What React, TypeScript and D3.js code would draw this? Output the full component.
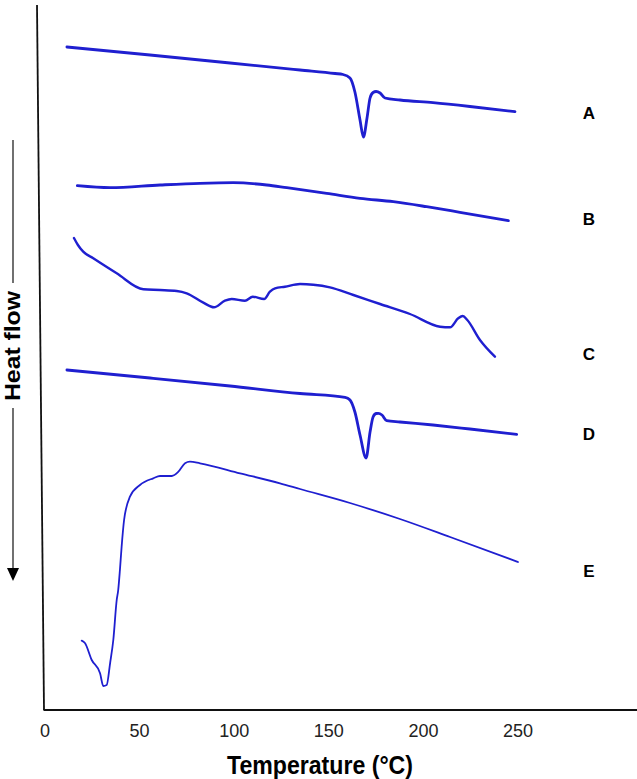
import React from "react";
import * as d3 from "d3";

const W = 637;
const H = 779;

// Temperature (°C) / heat flow (a.u.)
const tempA = [11.6, 55.5, 97.8, 134.8, 153.3, 157.5, 161.2, 163.8, 166.5, 168.3, 170.2, 171.8, 173.4, 175.0, 177.1, 179.7, 187.6, 205.1, 224.6, 248.4];
const flowA = [66.3, 65.5, 64.7, 64.0, 63.65, 63.55, 63.2, 61.8, 59.0, 57.3, 59.2, 61.2, 61.75, 61.85, 61.7, 61.2, 61.0, 60.73, 60.35, 59.83];

const tempB = [17.1, 34.4, 60.8, 81.9, 99.5, 117.2, 127.8, 148.9, 166.5, 184.1, 201.7, 219.3, 244.9];
const flowB = [52.43, 52.23, 52.5, 52.67, 52.73, 52.5, 52.23, 51.67, 51.17, 50.83, 50.33, 49.77, 48.93];

const tempC = [15.3, 17.4, 20.2, 25.5, 37.9, 52.0, 60.8, 69.6, 74.9, 83.7, 89.3, 95.1, 98.7, 105.7, 109.8, 115.8, 118.9, 121.6, 126.8, 134.8, 141.8, 150.6, 163.0, 177.1, 192.9, 208.8, 214.1, 218.4, 220.8, 223.2, 229.9, 237.8];
const flowC = [47.2, 46.5, 45.83, 45.17, 43.67, 42.07, 42.0, 41.9, 41.67, 40.73, 40.27, 40.93, 41.1, 40.93, 41.33, 41.1, 41.83, 42.17, 42.33, 42.6, 42.53, 42.27, 41.5, 40.6, 39.6, 38.33, 38.27, 39.17, 39.4, 39.0, 37.0, 35.33];

const tempD = [11.6, 55.5, 97.8, 134.8, 158.6, 161.2, 163.8, 166.5, 169.7, 171.8, 173.4, 175.0, 176.2, 178.1, 180.6, 187.6, 205.1, 224.6, 249.3];
const flowD = [34.0, 33.2, 32.4, 31.65, 31.27, 31.0, 29.8, 27.5, 25.2, 27.8, 29.3, 29.65, 29.67, 29.5, 28.93, 28.8, 28.5, 28.1, 27.57];

const tempE = [19.4, 21.1, 24.7, 29.1, 30.8, 32.6, 34.4, 36.1, 37.9, 38.7, 39.6, 40.5, 41.8, 44.9, 50.2, 57.2, 60.8, 67.0, 70.5, 74.0, 76.6, 81.9, 103.1, 124.2, 134.8, 161.2, 187.6, 214.1, 250.0];
const flowE = [6.93, 6.7, 5.0, 3.67, 2.4, 2.5, 4.67, 7.0, 11.0, 12.0, 14.0, 16.33, 19.0, 21.33, 22.5, 23.17, 23.4, 23.4, 23.83, 24.67, 24.83, 24.67, 23.67, 22.67, 22.1, 20.7, 19.1, 17.3, 14.8];

const seriesLabels = ["A", "B", "C", "D", "E"];
const labelFlow = [59.7, 49.1, 35.6, 27.6, 13.9];
const xTicks = [0, 50, 100, 150, 200, 250];

const xTitle = "Temperature (°C)";
const yTitle = "Heat flow";

const BLUE = "#1f1fd0";

export default function App() {
  const x = d3.scaleLinear().domain([0, 250]).range([45, 518]);
  const y = d3.scaleLinear().domain([0, 70]).range([710, 10]);
  const line = d3
    .line<[number, number]>()
    .x((d) => x(d[0]))
    .y((d) => y(d[1]))
    .curve(d3.curveMonotoneX);

  const series = [
    { t: tempA, f: flowA, w: 2.8 },
    { t: tempB, f: flowB, w: 2.8 },
    { t: tempC, f: flowC, w: 2.4 },
    { t: tempD, f: flowD, w: 2.8 },
    { t: tempE, f: flowE, w: 1.8 },
  ];

  const axisY = y(0);
  const font = "Arial, 'Liberation Sans', Helvetica, sans-serif";

  return (
    <svg
      width={W}
      height={H}
      style={{ position: "absolute", left: 0, top: 0, background: "#fff" }}
    >
      {/* axes */}
      <line x1={37} y1={5} x2={44} y2={axisY} stroke="#111" strokeWidth={1.8} />
      <line x1={43.5} y1={axisY} x2={W} y2={axisY} stroke="#111" strokeWidth={1.8} />

      {xTicks.map((t) => (
        <text
          key={t}
          x={x(t)}
          y={axisY + 27}
          textAnchor="middle"
          fontFamily={font}
          fontSize={18}
          fill="#222"
        >
          {t}
        </text>
      ))}

      <text
        x={320}
        y={774}
        textAnchor="middle"
        fontFamily={font}
        fontWeight="bold"
        fontSize={25}
        textLength={186}
        lengthAdjust="spacingAndGlyphs"
        fill="#000"
      >
        {xTitle}
      </text>

      {/* Heat flow label with arrow */}
      <line x1={13} y1={140} x2={13} y2={283} stroke="#111" strokeWidth={1.2} />
      <line x1={13} y1={408} x2={13} y2={570} stroke="#111" strokeWidth={1.2} />
      <path d="M7,568 L19,568 L13,581 Z" fill="#000" />
      <text
        transform={`translate(20,346) rotate(-90)`}
        textAnchor="middle"
        fontFamily={font}
        fontWeight="bold"
        fontSize={22}
        textLength={110}
        lengthAdjust="spacingAndGlyphs"
        fill="#000"
      >
        {yTitle}
      </text>

      {series.map((s, i) => (
        <path
          key={i}
          d={line(s.t.map((t, j) => [t, s.f[j]] as [number, number])) || ""}
          fill="none"
          stroke={BLUE}
          strokeWidth={s.w}
          strokeLinejoin="round"
          strokeLinecap="round"
        />
      ))}

      {seriesLabels.map((l, i) => (
        <text
          key={l}
          x={589}
          y={y(labelFlow[i]) + 6}
          textAnchor="middle"
          fontFamily={font}
          fontWeight="bold"
          fontSize={17}
          fill="#000"
        >
          {l}
        </text>
      ))}
    </svg>
  );
}
